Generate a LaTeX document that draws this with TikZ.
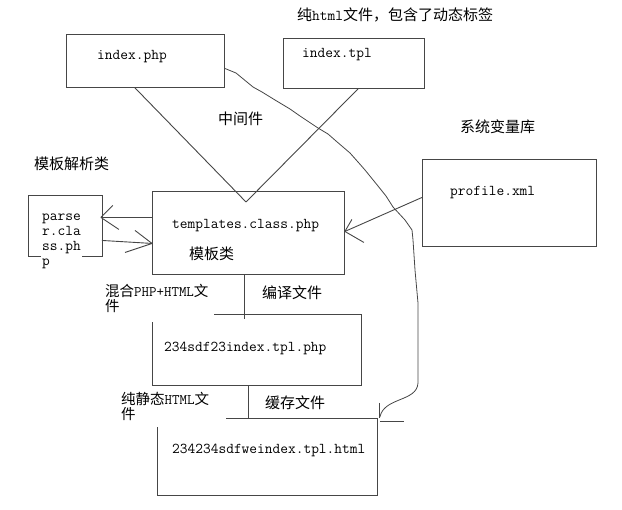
\documentclass[tikz,border=0pt]{standalone}
\usepackage{fontspec}
\newfontfamily\cjk{Noto Sans CJK SC}
\usetikzlibrary{calc}
\definecolor{lc}{RGB}{70,70,70}
\newcommand{\zh}[1]{{\cjk #1}}
\begin{document}
\begin{tikzpicture}[x=1pt,y=-1pt,
  ln/.style={draw=lc, line width=0.9pt},
  box/.style={ln, rectangle, inner sep=0pt, anchor=north west},
  tt/.style={font=\fontsize{15}{15}\selectfont\ttfamily, inner sep=0pt, anchor=west},
  zhl/.style={font=\fontsize{15}{15}\selectfont\cjk, inner sep=0pt, anchor=west},
  mixl/.style={font=\fontsize{14.5}{15.5}\selectfont, inner sep=0pt, anchor=north west, align=left}]
\useasboundingbox (0,0) rectangle (622,510);
% boxes
\node[box, minimum width=158pt, minimum height=53pt] (idx) at (66,34) {};
\node[box, minimum width=141pt, minimum height=50pt] (tpl) at (283,38) {};
\node[box, minimum width=174pt, minimum height=87pt] (prof) at (422,159) {};
\node[box, minimum width=192pt, minimum height=83pt] (tmpl) at (152,191) {};
\node[box, minimum width=74pt, minimum height=61pt] (pars) at (28,195) {};
\node[box, minimum width=209pt, minimum height=71pt] (comp) at (152,314) {};
\node[box, minimum width=220pt, minimum height=77pt] (cache) at (157,418) {};
% connectors
\coordinate (apex) at (246,202);
\draw[ln] ($(idx.south west)+(69,0)$) -- (apex);
\draw[ln] ($(tpl.south west)+(75,0)$) -- (apex);
% profile -> templates
\coordinate (ptip) at ($(tmpl.east)+(0,-1.5)$);
\draw[ln] ($(prof.west)+(0,-5.5)$) -- (ptip);
\draw[ln] (ptip) -- ++(7,-12);
\draw[ln] (ptip) -- ++(19,11);
% templates -> parser
\coordinate (ptip2) at ($(pars.east)+(-2,-8.5)$);
\draw[ln] ($(tmpl.west)+(0,-15.5)$) -- (ptip2);
\draw[ln] (ptip2) -- ++(12,-12);
\draw[ln] (ptip2) -- ++(18,12);
% parser -> templates
\coordinate (ttip) at ($(tmpl.west)+(0,10.5)$);
\draw[ln] ($(pars.east)+(-1,14.5)$) -- (ttip);
\draw[ln] (ttip) -- ++(-17,-13);
\draw[ln] (ttip) -- ++(-27,9);
% vertical links
\draw[ln] ($(tmpl.south)+(-4,0)$) -- ($(tmpl.south)+(-4,44)$);
\draw[ln] ($(comp.south)+(-8.5,0)$) -- ($(cache.north)+(-19,0)$);
% long wiggly curve index.php -> cache
\draw[ln, line width=0.8pt] ($(idx.east)+(0,7.5)$) -- (236,73) -- (253,87) -- (262,92) -- (275,100) -- (290,109) -- (300,116) -- (318,128)
  -- (328,134) -- (336,141) -- (350,153) -- (358,162) -- (365,170) -- (378,186) -- (386,196) -- (393,207)
  -- (405,220) -- (412,230) -- (413,240) -- (415,270) -- (418,303) -- (418,383)
  .. controls (417,402) and (384,397) .. ($(cache.north east)+(2,-1)$);
\draw[ln] ($(cache.north east)+(2,-15)$) -- ($(cache.north east)+(2,0)$);
\draw[ln] ($(cache.north east)+(2,3)$) -- ++(24,0);
% white covers for labels
\fill[white] (104,284) rectangle (214,322);
\fill[white] (120,392) rectangle (226,427);
% texts
\node[font=\fontsize{15}{15}\selectfont, inner sep=0pt, anchor=west] (toplbl) at (297,15) {\zh{纯}{\ttfamily html}\zh{文件，包含了动态标签}};
\node[tt] (tidx) at (97,57) {index.php};
\node[tt] (ttpl) at (302,55) {index.tpl};
\node[zhl] (mid) at (218,119) {中间件};
\node[zhl] (sysv) at (460,127) {系统变量库};
\node[zhl] (parsl) at (34,164) {模板解析类};
\node[tt] (tprof) at (450,193) {profile.xml};
\node[tt] (ttmpl) at (172,226) {templates.class.php};
\node[zhl] (tmplz) at (189,254) {模板类};
\node[font=\fontsize{15}{14.8}\selectfont\ttfamily, inner sep=1pt, anchor=north west, align=left, fill=white] (tpars) at (41,213) {parse\\r.cla\\ss.ph\\p};
\node[mixl] (mixlbl) at (105,284) {\zh{混合}{\ttfamily PHP+HTML}\zh{文}\\\zh{件}};
\node[zhl] (compl) at (262,293) {编译文件};
\node[tt] (tcomp) at (164,348) {234sdf23index.tpl.php};
\node[mixl] (statlbl) at (121,392) {\zh{纯静态}{\ttfamily HTML}\zh{文}\\\zh{件}};
\node[zhl] (cachel) at (265,403) {缓存文件};
\node[tt] (tcache) at (172,450) {234234sdfweindex.tpl.html};
\end{tikzpicture}
\end{document}
